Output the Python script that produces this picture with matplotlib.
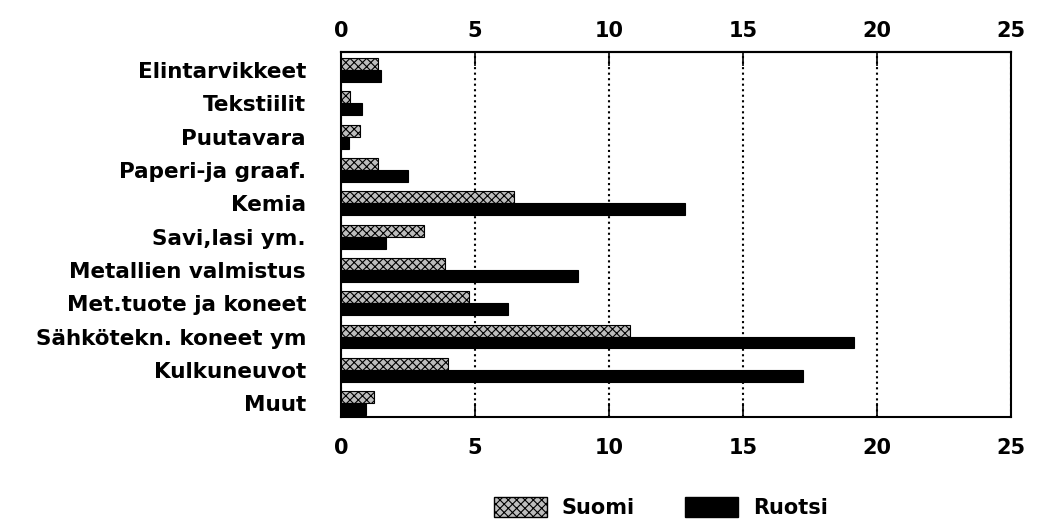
import matplotlib.pyplot as plt
import numpy as np
from matplotlib.patches import Patch

plt.rcParams['font.family'] = ['DejaVu Sans']
plt.rcParams['hatch.linewidth'] = 0.8

toimialat = ["Elintarvikkeet", "Tekstiilit", "Puutavara", "Paperi-ja graaf.",
             "Kemia", "Savi,lasi ym.", "Metallien valmistus",
             "Met.tuote ja koneet", "Sähkötekn. koneet ym", "Kulkuneuvot", "Muut"]
suomi = [1.4, 0.35, 0.7, 1.4, 6.45, 3.1, 3.9, 4.8, 10.8, 4.0, 1.25]
ruotsi = [1.5, 0.8, 0.3, 2.5, 12.85, 1.7, 8.85, 6.25, 19.15, 17.25, 0.95]
xticks = [0, 5, 10, 15, 20, 25]

y = np.arange(len(toimialat))
h = 0.36

fig = plt.figure(figsize=(10.39, 5.22), dpi=100)
ax = fig.add_axes([0.328, 0.201, 0.645, 0.699])

ax.barh(y - h / 2, suomi, height=h, color="#bdbdbd", edgecolor="black",
        hatch="xxxx", linewidth=0.8, zorder=3)
ax.barh(y + h / 2, ruotsi, height=h, color="black", edgecolor="black",
        linewidth=0.8, zorder=3)

ax.set_xlim(0, 25)
ax.set_ylim(10.42, -0.54)
ax.set_xticks(xticks)
ax.set_xticklabels([str(t) for t in xticks], fontsize=15, fontweight="bold")
ax.set_yticks(y)
ax.set_yticklabels(toimialat, fontsize=15.5, fontweight="bold")
ax.tick_params(axis="x", direction="in", length=10, width=1.2, pad=15)
ax.tick_params(axis="y", length=0, pad=25)

top = ax.secondary_xaxis("top")
top.set_xticks(xticks)
top.set_xticklabels([str(t) for t in xticks], fontsize=15, fontweight="bold")
top.tick_params(direction="in", length=10, width=1.2, pad=8)
top.spines["top"].set_linewidth(1.5)

ax.grid(axis="x", linestyle=":", color="black", linewidth=1.5, zorder=0)
for s in ax.spines.values():
    s.set_linewidth(1.5)

handles = [Patch(facecolor="#bdbdbd", edgecolor="black", hatch="xxxx", label="Suomi"),
           Patch(facecolor="black", edgecolor="black", label="Ruotsi")]
fig.legend(handles=handles, loc="center", bbox_to_anchor=(0.636, 0.027), ncol=2,
           frameon=False, prop={"size": 15, "weight": "bold"},
           handlelength=2.55, handleheight=1.1, handletextpad=0.7,
           columnspacing=2.4)

plt.savefig("out.png")
plt.close()
